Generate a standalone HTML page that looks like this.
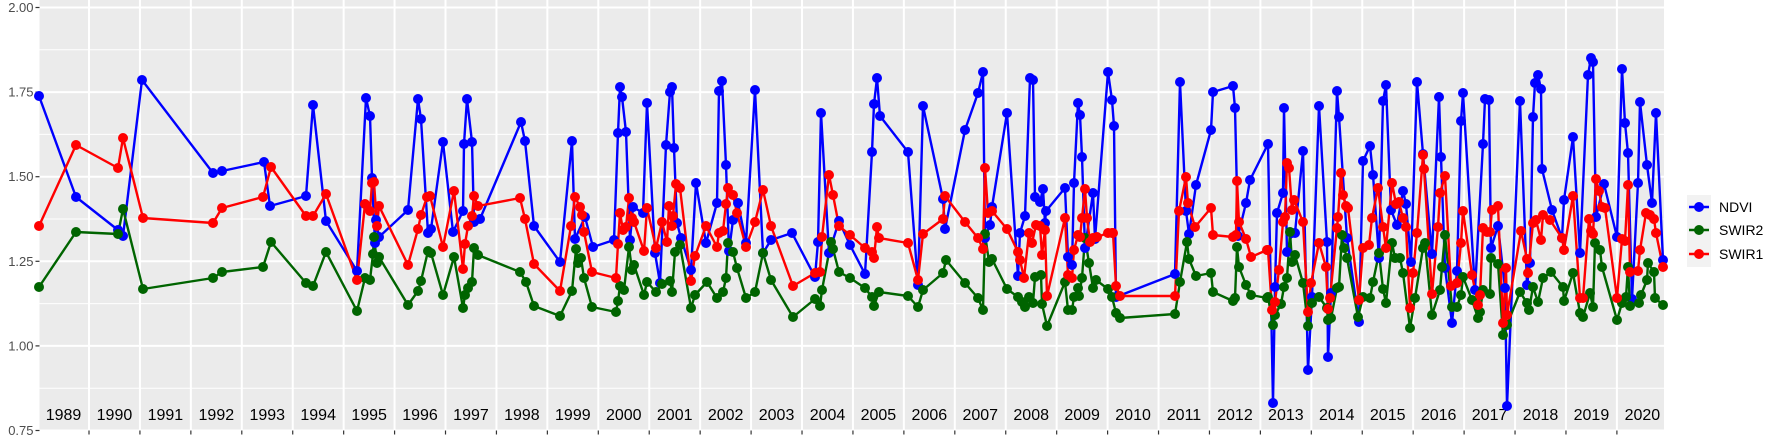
<!DOCTYPE html>
<html><head><meta charset="utf-8"><style>
html,body{margin:0;padding:0;background:#fff;}
svg{display:block;font-family:"Liberation Sans",Arial,sans-serif;}
</style></head><body>
<svg id="s" width="1773" height="442" viewBox="0 0 1773 442" xmlns="http://www.w3.org/2000/svg"></svg>
<script>
const N=[[39,96],[76,197],[118,230],[123,236],[142,80],[213,173],[222,171],[264,162],[270,206],[306,196],[313,105],[326,221],[357,271],[366,98],[370,116],[372,178],[375,243],[376,220],[379,237],[408,210],[418,99],[421,119],[428,233],[431,229],[443,142],[453,232],[463,211],[464,144],[467,99],[472,142],[474,222],[480,219],[521,122],[525,141],[534,226],[560,262],[572,141],[575,239],[585,217],[593,247],[614,240],[618,133],[620,87],[622,97],[626,132],[630,240],[633,207],[643,213],[647,103],[655,253],[660,283],[666,145],[670,92],[672,87],[674,148],[677,223],[681,238],[691,270],[696,183],[706,243],[717,203],[719,91],[722,81],[726,165],[729,251],[733,220],[738,203],[746,243],[755,90],[763,253],[771,240],[792,233],[815,277],[818,242],[821,113],[829,253],[839,221],[850,245],[865,274],[872,152],[874,104],[877,78],[880,116],[908,152],[918,285],[923,106],[943,199],[945,229],[965,130],[978,93],[983,72],[985,238],[990,225],[992,207],[1007,113],[1018,276],[1020,233],[1025,216],[1030,78],[1033,80],[1035,197],[1040,202],[1043,189],[1045,223],[1046,211],[1065,188],[1068,257],[1072,265],[1074,183],[1078,103],[1080,115],[1082,157],[1085,248],[1093,193],[1095,239],[1108,72],[1112,100],[1114,126],[1116,297],[1175,274],[1180,82],[1186,211],[1189,234],[1196,185],[1211,130],[1213,92],[1233,86],[1235,108],[1238,236],[1246,203],[1250,180],[1268,144],[1273,403],[1275,287],[1277,213],[1283,193],[1284,108],[1287,252],[1292,233],[1295,233],[1303,151],[1308,370],[1312,297],[1319,106],[1327,242],[1328,357],[1331,293],[1337,91],[1339,117],[1347,238],[1359,322],[1363,161],[1370,146],[1373,175],[1379,258],[1383,101],[1386,85],[1391,210],[1397,225],[1403,191],[1406,204],[1411,262],[1417,82],[1423,154],[1432,254],[1439,97],[1441,157],[1445,268],[1452,323],[1457,271],[1461,121],[1463,93],[1475,290],[1483,144],[1485,99],[1489,100],[1491,248],[1498,226],[1505,288],[1507,406],[1520,101],[1527,285],[1530,263],[1533,117],[1535,83],[1538,75],[1541,89],[1542,169],[1552,210],[1562,238],[1564,200],[1573,137],[1580,253],[1588,75],[1591,58],[1593,62],[1596,217],[1604,184],[1617,237],[1622,69],[1625,123],[1628,153],[1632,299],[1638,183],[1640,102],[1647,165],[1652,203],[1656,113],[1663,260]];
const G=[[39,287],[76,232],[118,234],[123,209],[143,289],[213,278],[222,272],[263,267],[271,242],[306,283],[313,286],[326,252],[357,311],[365,278],[370,280],[373,254],[374,237],[377,263],[379,257],[408,305],[418,291],[421,281],[428,251],[431,253],[443,295],[454,257],[463,308],[465,295],[468,288],[472,282],[474,248],[478,255],[520,272],[526,282],[534,306],[560,316],[572,291],[576,249],[578,263],[581,258],[584,278],[592,307],[616,312],[618,301],[620,286],[624,290],[629,247],[632,270],[634,265],[644,295],[647,282],[656,292],[662,284],[670,281],[672,292],[675,252],[680,245],[691,308],[695,295],[707,282],[717,298],[723,292],[726,278],[728,243],[733,252],[737,268],[746,298],[755,292],[763,253],[771,280],[793,317],[815,299],[820,306],[822,290],[831,242],[833,249],[839,272],[850,278],[865,288],[872,297],[874,306],[879,292],[908,296],[918,307],[923,290],[943,273],[946,260],[965,283],[978,298],[983,310],[985,234],[989,262],[992,259],[1007,289],[1018,297],[1022,302],[1025,307],[1029,297],[1033,303],[1035,277],[1041,275],[1042,304],[1047,326],[1065,282],[1068,310],[1072,310],[1074,297],[1078,288],[1079,296],[1082,278],[1085,238],[1089,263],[1093,288],[1096,280],[1108,289],[1112,297],[1116,313],[1120,318],[1175,314],[1180,282],[1187,242],[1189,259],[1196,276],[1211,273],[1213,292],[1233,301],[1235,298],[1237,247],[1239,267],[1246,285],[1251,295],[1267,298],[1268,297],[1273,325],[1275,315],[1281,304],[1284,287],[1287,278],[1290,232],[1292,262],[1295,255],[1303,283],[1308,326],[1312,303],[1319,297],[1327,308],[1328,320],[1331,318],[1337,288],[1339,287],[1342,235],[1344,248],[1347,258],[1358,317],[1363,297],[1370,298],[1373,282],[1379,253],[1383,289],[1386,303],[1392,243],[1395,258],[1400,258],[1403,273],[1410,328],[1415,298],[1423,248],[1425,243],[1432,315],[1440,290],[1442,267],[1445,235],[1452,307],[1457,307],[1461,295],[1463,277],[1472,300],[1478,318],[1480,312],[1483,290],[1490,294],[1491,258],[1498,264],[1503,335],[1507,325],[1520,292],[1527,303],[1529,310],[1533,287],[1538,302],[1543,278],[1551,272],[1563,287],[1564,301],[1573,273],[1580,313],[1583,317],[1590,293],[1593,307],[1595,243],[1600,250],[1602,267],[1617,320],[1622,303],[1626,297],[1628,267],[1630,306],[1639,303],[1641,295],[1647,280],[1648,263],[1654,272],[1655,298],[1663,305]];
const R=[[39,226],[76,145],[118,168],[123,138],[143,218],[213,223],[222,208],[263,197],[271,167],[306,216],[313,216],[326,194],[357,280],[365,204],[370,211],[372,183],[374,182],[377,226],[379,206],[408,265],[418,229],[421,215],[427,197],[430,196],[443,247],[454,191],[463,269],[465,244],[468,226],[472,216],[474,196],[478,206],[520,198],[525,219],[534,264],[560,291],[571,226],[575,197],[580,207],[582,215],[584,232],[592,272],[616,278],[618,244],[620,213],[623,230],[626,227],[629,198],[632,218],[634,222],[644,251],[647,208],[656,248],[662,222],[667,242],[669,206],[672,226],[673,216],[676,184],[680,188],[691,281],[695,256],[706,226],[717,247],[719,233],[723,231],[726,204],[728,188],[733,195],[737,213],[746,247],[755,222],[763,190],[771,226],[793,286],[815,273],[820,272],[822,237],[829,175],[833,195],[839,226],[850,235],[865,248],[872,252],[874,258],[877,227],[879,238],[908,243],[918,280],[923,234],[943,219],[945,196],[965,222],[978,238],[983,249],[985,168],[988,213],[992,211],[1007,229],[1018,252],[1020,260],[1024,278],[1029,233],[1032,243],[1036,225],[1040,226],[1042,255],[1045,230],[1047,296],[1065,218],[1068,275],[1072,278],[1074,250],[1078,235],[1080,237],[1082,218],[1085,189],[1087,218],[1090,242],[1093,238],[1097,237],[1108,233],[1112,233],[1113,233],[1116,286],[1120,296],[1175,296],[1179,211],[1186,177],[1188,203],[1195,227],[1211,208],[1213,235],[1233,237],[1236,235],[1237,181],[1239,222],[1246,239],[1251,257],[1267,250],[1268,250],[1272,310],[1275,302],[1279,270],[1283,222],[1285,217],[1287,163],[1289,168],[1292,210],[1294,200],[1303,222],[1308,312],[1311,283],[1319,243],[1326,267],[1328,309],[1330,298],[1337,228],[1338,217],[1341,173],[1343,195],[1346,206],[1348,208],[1359,300],[1363,248],[1369,245],[1372,218],[1378,188],[1383,227],[1386,248],[1392,183],[1396,204],[1399,202],[1403,218],[1406,227],[1410,308],[1413,273],[1417,233],[1423,155],[1424,169],[1432,294],[1438,227],[1440,193],[1445,176],[1451,286],[1457,283],[1461,243],[1463,211],[1472,275],[1478,305],[1480,295],[1483,228],[1487,232],[1490,232],[1492,210],[1498,206],[1503,323],[1506,268],[1507,315],[1521,231],[1527,259],[1528,273],[1533,223],[1536,220],[1541,240],[1543,215],[1550,220],[1562,238],[1564,250],[1573,196],[1580,298],[1583,298],[1589,219],[1591,231],[1593,234],[1596,179],[1599,191],[1602,207],[1605,208],[1617,298],[1622,239],[1625,241],[1628,185],[1630,272],[1638,271],[1640,250],[1646,213],[1650,215],[1654,219],[1656,233],[1663,267]];
const L=39.5,Rt=1664,T=0,B=430.5;
const y=v=>7.5+(2-v)*338.4;
let h=`<rect x="${L}" y="${T}" width="${Rt-L}" height="${B-T}" fill="#ebebeb"/>`;
for(let v=0.875;v<2;v+=0.25)h+=`<line x1="${L}" x2="${Rt}" y1="${y(v)}" y2="${y(v)}" stroke="#fff" stroke-width="1"/>`;
for(let v=0.75;v<=2.001;v+=0.25)h+=`<line x1="${L}" x2="${Rt}" y1="${y(v)}" y2="${y(v)}" stroke="#fff" stroke-width="2"/>`;
for(let k=0;k<31;k++){const x=89+50.93*k;h+=`<line x1="${x}" x2="${x}" y1="${T}" y2="${B}" stroke="#fff" stroke-width="2"/><line x1="${x}" x2="${x}" y1="${B}" y2="${B+4}" stroke="#333" stroke-width="1.2"/>`;}
for(let k=0;k<32;k++){const x=89+50.93*(k-0.5);h+=`<text x="${x}" y="420" font-size="16" text-anchor="middle" fill="#000">${1989+k}</text>`;}
for(let v=0.75;v<=2.001;v+=0.25){const yy=y(v);h+=`<line x1="${L-4}" x2="${L}" y1="${yy}" y2="${yy}" stroke="#333" stroke-width="1.2"/><text x="${L-6}" y="${yy+4.5}" font-size="13" text-anchor="end" fill="#4d4d4d">${v.toFixed(2)}</text>`;}
const S=[[N,'#0000ff'],[G,'#006400'],[R,'#ff0000']];
S.forEach(([p,c])=>{p.sort((a,b)=>a[0]-b[0]);h+=`<polyline fill="none" stroke="${c}" stroke-width="2.4" stroke-linejoin="round" points="${p.map(q=>q.join(',')).join(' ')}"/>`;});
S.forEach(([p,c])=>{p.forEach(q=>{h+=`<circle cx="${q[0]}" cy="${q[1]}" r="5" fill="${c}"/>`;});});
h+=`<rect x="1687" y="195" width="24" height="72" fill="#f2f2f2"/>`;
[['NDVI','#0000ff',207],['SWIR2','#006400',230],['SWIR1','#ff0000',254]].forEach(([t,c,yy])=>{h+=`<line x1="1689" x2="1709" y1="${yy}" y2="${yy}" stroke="${c}" stroke-width="2.4"/><circle cx="1699" cy="${yy}" r="5" fill="${c}"/><text x="1719" y="${yy+5}" font-size="14" fill="#000">${t}</text>`;});
document.getElementById('s').innerHTML=h;
</script>
</body></html>
